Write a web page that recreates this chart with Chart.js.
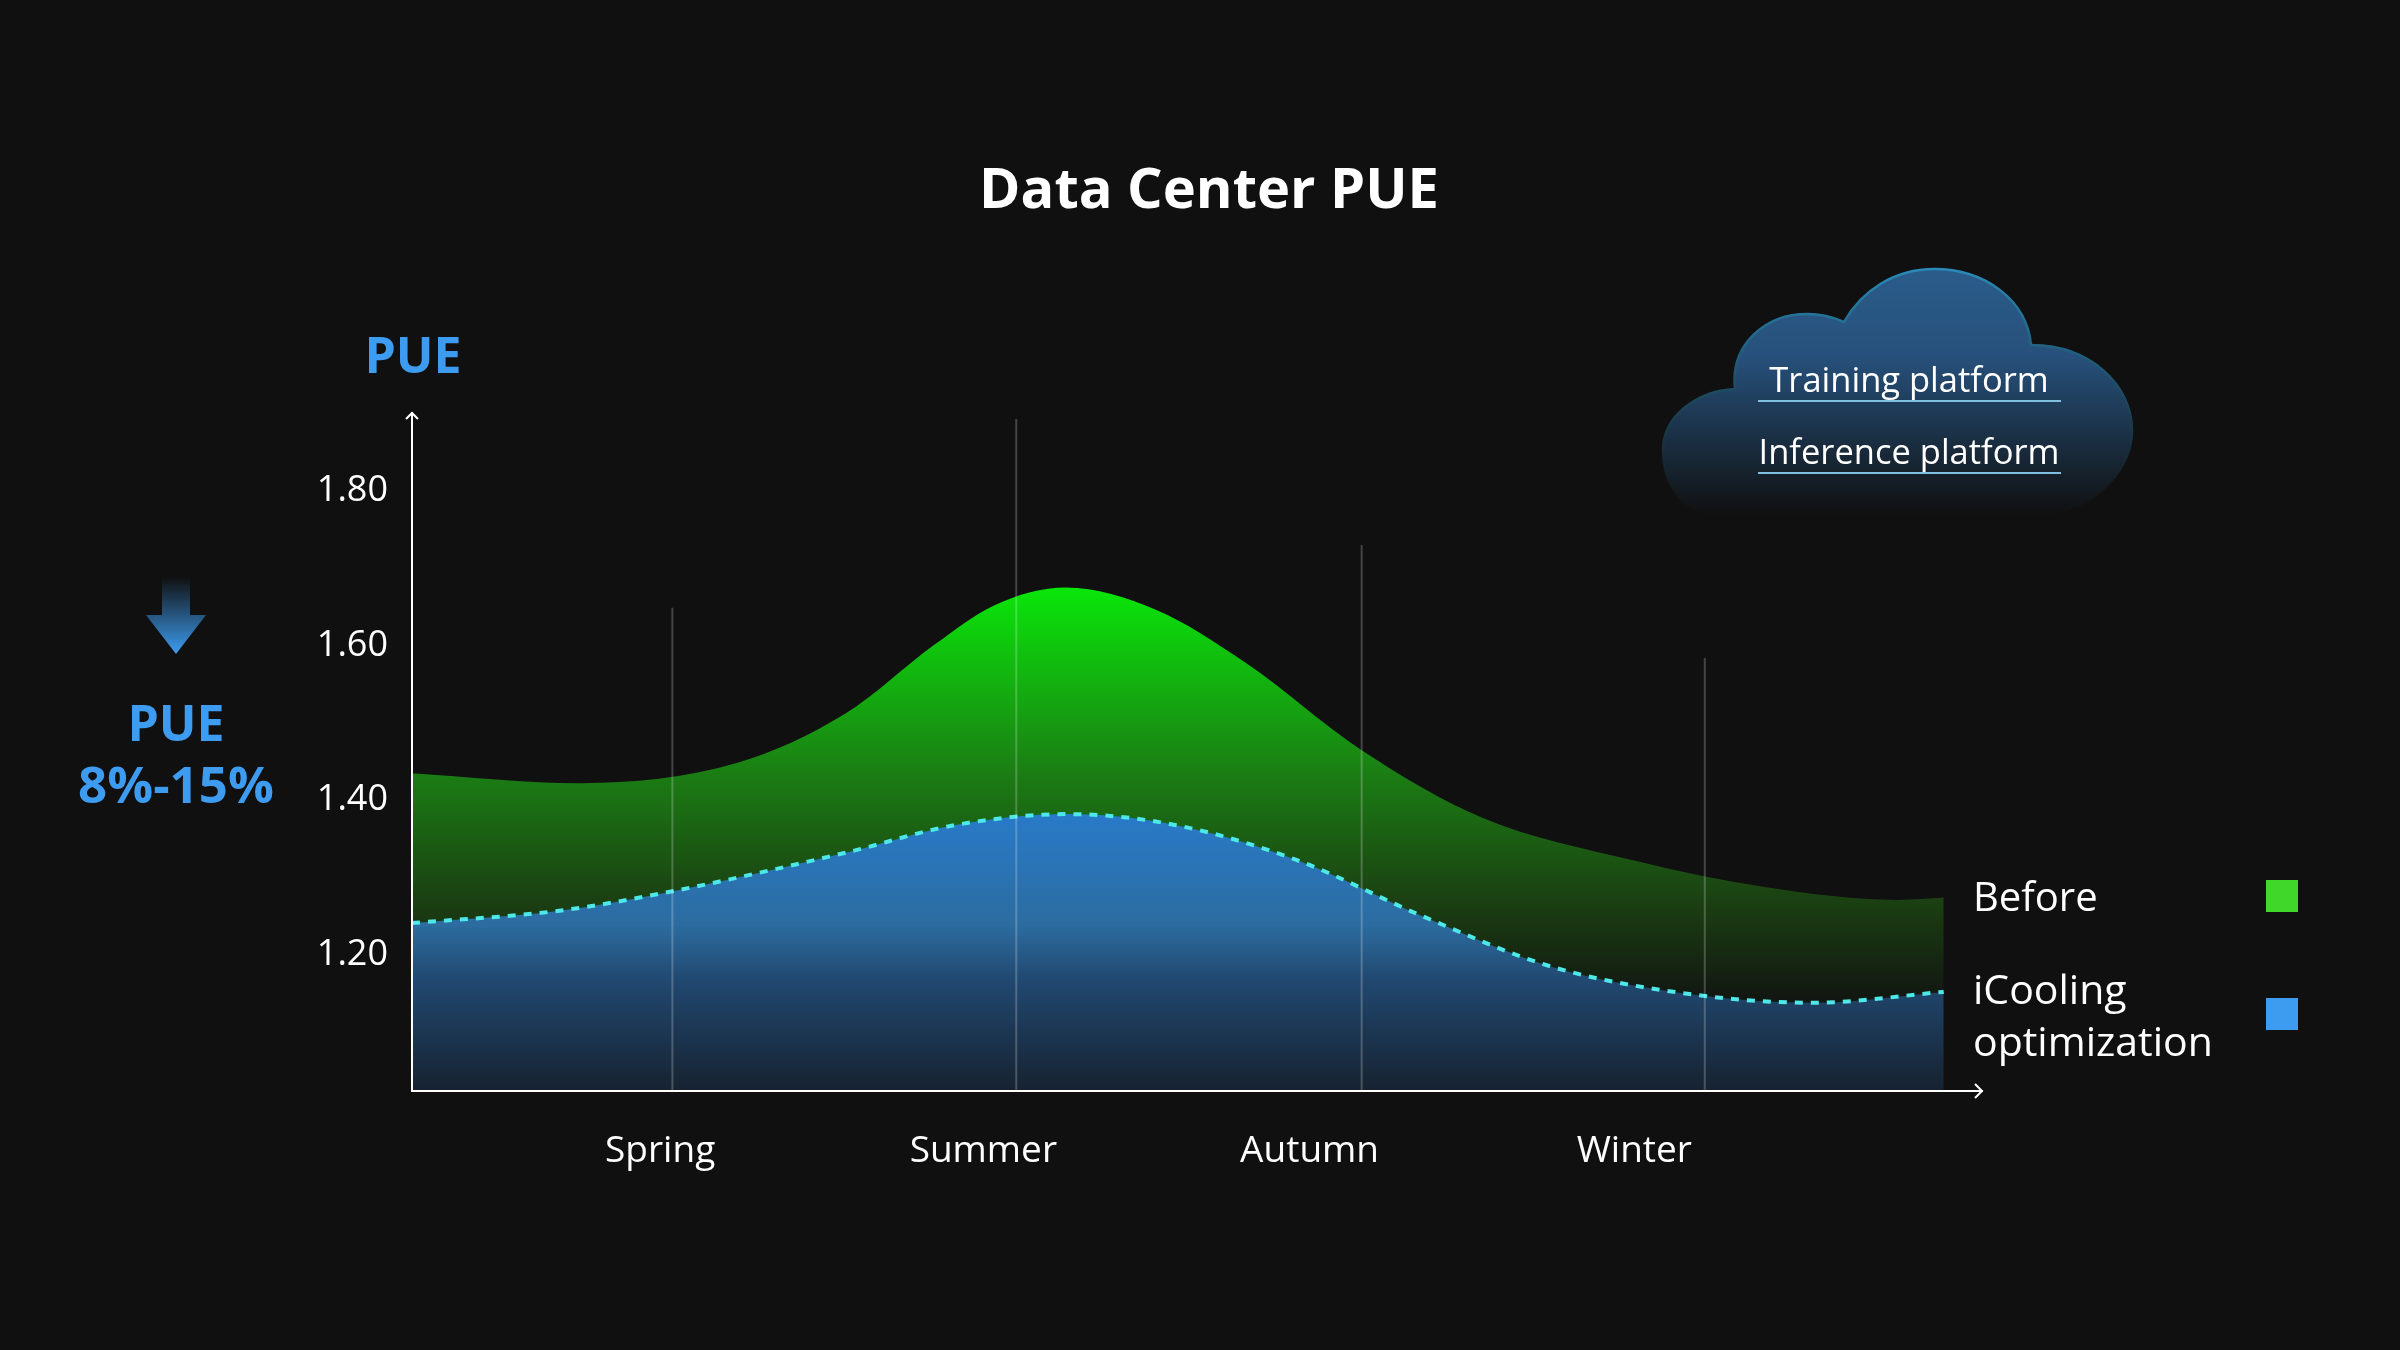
<!DOCTYPE html>
<html>
<head>
<meta charset="utf-8">
<script src="https://cdn.jsdelivr.net/npm/chart.js@4"></script>
<style>
    html, body { margin: 0; background: #101010; }
    #wrap { position: relative; width: 2400px; height: 1350px; overflow: hidden; font-family: "Open Sans", "Noto Sans", sans-serif; color: #fff; }
    #wrap div { position: absolute; white-space: nowrap; line-height: 1; }
    canvas { position: absolute; left: 0; top: 0; }
    svg { position: absolute; left: 0; top: 0; }
    .mid { transform: translate(-50%, -50%); }
    .blue { color: #3d9cf0; font-weight: 700; font-size: 50px; }
    .leg { font-size: 41px; }
    .swatch { width: 32px; height: 32px; }
</style>
</head>
<body>
<div id="wrap">
    <canvas id="myChart" width="2400" height="1350"></canvas>
    <svg width="2400" height="1350">
        <defs>
            <linearGradient id="cloudFill" gradientUnits="userSpaceOnUse" x1="0" y1="269" x2="0" y2="515">
                <stop offset="0" stop-color="#2a5c8a"/>
                <stop offset="0.35" stop-color="#27517c"/>
                <stop offset="0.7" stop-color="#1a2e42"/>
                <stop offset="1" stop-color="#101010"/>
            </linearGradient>
            <linearGradient id="cloudEdge" gradientUnits="userSpaceOnUse" x1="0" y1="269" x2="0" y2="510">
                <stop offset="0" stop-color="#2a8ab8"/>
                <stop offset="1" stop-color="#101010"/>
            </linearGradient>
            <linearGradient id="arrowFill" gradientUnits="userSpaceOnUse" x1="0" y1="577" x2="0" y2="654">
                <stop offset="0" stop-color="#101010"/>
                <stop offset="1" stop-color="#3d9cf0"/>
            </linearGradient>
        </defs>
        <path d="M1702 515 C1677 505 1663 478 1663 450 C1663 416 1697 391 1735 389 C1730 345 1765 314 1807 314 C1820 314 1833 317 1844 322 C1862 290 1895 269 1934 269 C1985 269 2027 300 2031 345 C2090 345 2132 385 2132 430 C2132 468 2100 500 2060 515 Z" fill="url(#cloudFill)" stroke="url(#cloudEdge)" stroke-width="2.5"/>
        <rect x="1758" y="400" width="303" height="2" fill="#7fbfe0"/>
        <rect x="1758" y="472" width="303" height="2" fill="#7fbfe0"/>
        <path d="M162 577 H190 V615 H206 L176 654 L146 615 H162 Z" fill="url(#arrowFill)"/>
    </svg>

    <div class="mid" style="left:1209px; top:186px; font-size:56px; font-weight:700;">Data Center PUE</div>
    <div class="mid blue" style="left:413px; top:354px;">PUE</div>
    <div class="mid blue" style="left:176px; top:722px;">PUE</div>
    <div class="mid blue" style="left:176px; top:783px; font-size:51px;">8%-15%</div>
    <div class="mid" style="left:1909px; top:379px; font-size:34.5px;">Training platform</div>
    <div class="mid" style="left:1909px; top:451px; font-size:34.5px;">Inference platform</div>
    <div class="leg" style="left:1973px; top:876px; font-size:40px;">Before</div>
    <div class="leg" style="left:1973px; top:968px;">iCooling</div>
    <div class="leg" style="left:1973px; top:1020px;">optimization</div>
    <div class="swatch" style="left:2266px; top:880px; background:#41d62a;"></div>
    <div class="swatch" style="left:2266px; top:998px; background:#3d9cf0;"></div>
</div>

<script>
// x runs 0-100 across the filled area
const seasons = ['Spring', 'Summer', 'Autumn', 'Winter'];
const seasonTickX = [16.2, 37.3, 58.6, 79.8];
const yTicks = [1.2, 1.4, 1.6, 1.8];

const beforeX = [0, 11, 21.2, 28.3, 34.1, 38, 42.7, 48.6, 54.4, 61.9, 69.8, 80, 88.2, 97, 100];
const beforePue = [1.435, 1.422, 1.448, 1.512, 1.601, 1.652, 1.675, 1.646, 1.578, 1.466, 1.378, 1.321, 1.288, 1.271, 1.274];

const icoolingX = [0, 9.6, 17.2, 28.5, 35.5, 42.8, 49.8, 57.7, 66.2, 74.5, 84.3, 91.5, 100];
const icoolingPue = [1.241, 1.257, 1.283, 1.333, 1.368, 1.382, 1.368, 1.323, 1.248, 1.184, 1.147, 1.138, 1.152];

const dropX = [17, 39.45, 62, 84.4];
const dropTop = [1.649, 1.893, 1.730, 1.584];

const yMin = 1.0238;
const yMax = 1.9009;
const xMax = 102.5;

function toPoints(xs, ys) {
    return xs.map(function(x, i) {
        return { x: x, y: ys[i] };
    });
}

// one line with gaps so the season markers stay separate
const dropPoints = [];
for (var i = 0; i < dropX.length; i++) {
    dropPoints.push({ x: dropX[i], y: yMin });
    dropPoints.push({ x: dropX[i], y: dropTop[i] });
    dropPoints.push({ x: dropX[i], y: null });
}

function verticalFill(topValue, stops) {
    return function(c) {
        const chart = c.chart;
        if (!chart.chartArea) return 'transparent';
        const top = chart.scales.y.getPixelForValue(topValue);
        const g = chart.ctx.createLinearGradient(0, top, 0, chart.chartArea.bottom);
        stops.forEach(function(s) {
            g.addColorStop(s[0], s[1]);
        });
        return g;
    };
}

const greenStops = [[0, 'rgb(10,230,10)'], [0.37, 'rgb(27,125,20)'], [0.63, 'rgb(27,62,18)'], [0.81, 'rgb(18,24,17)'], [1, '#101010']];
const blueStops = [[0, 'rgb(40,122,200)'], [0.4, 'rgb(44,108,160)'], [0.6, 'rgb(33,72,112)'], [1, 'rgb(22,34,48)']];

// small open arrowheads on the ends of both axes
const axisArrows = {
    id: 'axisArrows',
    afterDraw: function(chart) {
        const a = chart.chartArea;
        const ctx = chart.ctx;
        ctx.save();
        ctx.strokeStyle = '#fff';
        ctx.lineWidth = 2;
        ctx.beginPath();
        ctx.moveTo(a.left - 6, a.top + 6);
        ctx.lineTo(a.left, a.top);
        ctx.lineTo(a.left + 6, a.top + 6);
        ctx.moveTo(a.right - 7, a.bottom - 7);
        ctx.lineTo(a.right, a.bottom);
        ctx.lineTo(a.right - 7, a.bottom + 7);
        ctx.stroke();
        ctx.restore();
    }
};

const myChart = new Chart(document.getElementById('myChart'), {
    type: 'line',
    plugins: [axisArrows],
    data: {
        datasets: [
            {
                label: 'Season markers',
                data: dropPoints,
                borderColor: 'rgba(255,255,255,0.22)',
                borderWidth: 2,
                pointRadius: 0,
                spanGaps: false,
                fill: false,
                order: 0
            },
            {
                label: 'iCooling optimization',
                data: toPoints(icoolingX, icoolingPue),
                borderColor: '#4de8e8',
                borderWidth: 4,
                borderDash: [8, 8],
                backgroundColor: verticalFill(1.382, blueStops),
                cubicInterpolationMode: 'monotone',
                pointRadius: 0,
                fill: 'start',
                order: 1
            },
            {
                label: 'Before',
                data: toPoints(beforeX, beforePue),
                borderWidth: 0,
                borderColor: 'transparent',
                backgroundColor: verticalFill(1.675, greenStops),
                cubicInterpolationMode: 'monotone',
                pointRadius: 0,
                fill: 'start',
                order: 2
            }
        ]
    },
    options: {
        responsive: false,
        animation: false,
        layout: { padding: { left: 0, top: 413, right: 418, bottom: 0 } },
        plugins: {
            legend: { display: false },
            title: { display: false },
            tooltip: { enabled: false }
        },
        scales: {
            x: {
                type: 'linear',
                min: 0,
                max: xMax,
                afterBuildTicks: function(scale) {
                    scale.ticks = seasonTickX.map(function(v) {
                        return { value: v };
                    });
                },
                afterFit: function(scale) {
                    scale.height = 259;
                },
                grid: { display: false },
                border: { display: true, color: '#fff', width: 2, z: 1 },
                ticks: {
                    color: '#fff',
                    autoSkip: false,
                    maxRotation: 0,
                    padding: 30,
                    font: { family: 'Open Sans', size: 37 },
                    callback: function(value) {
                        return seasons[seasonTickX.indexOf(value)];
                    }
                }
            },
            y: {
                min: yMin,
                max: yMax,
                afterBuildTicks: function(scale) {
                    scale.ticks = yTicks.map(function(v) {
                        return { value: v };
                    });
                },
                afterFit: function(scale) {
                    scale.width = 412;
                },
                grid: { display: false },
                border: { display: true, color: '#fff', width: 2, z: 1 },
                ticks: {
                    color: '#fff',
                    padding: 16,
                    font: { family: 'Open Sans', size: 36 },
                    callback: function(value) {
                        return value.toFixed(2);
                    }
                }
            }
        }
    }
});
</script>
</body>
</html>
